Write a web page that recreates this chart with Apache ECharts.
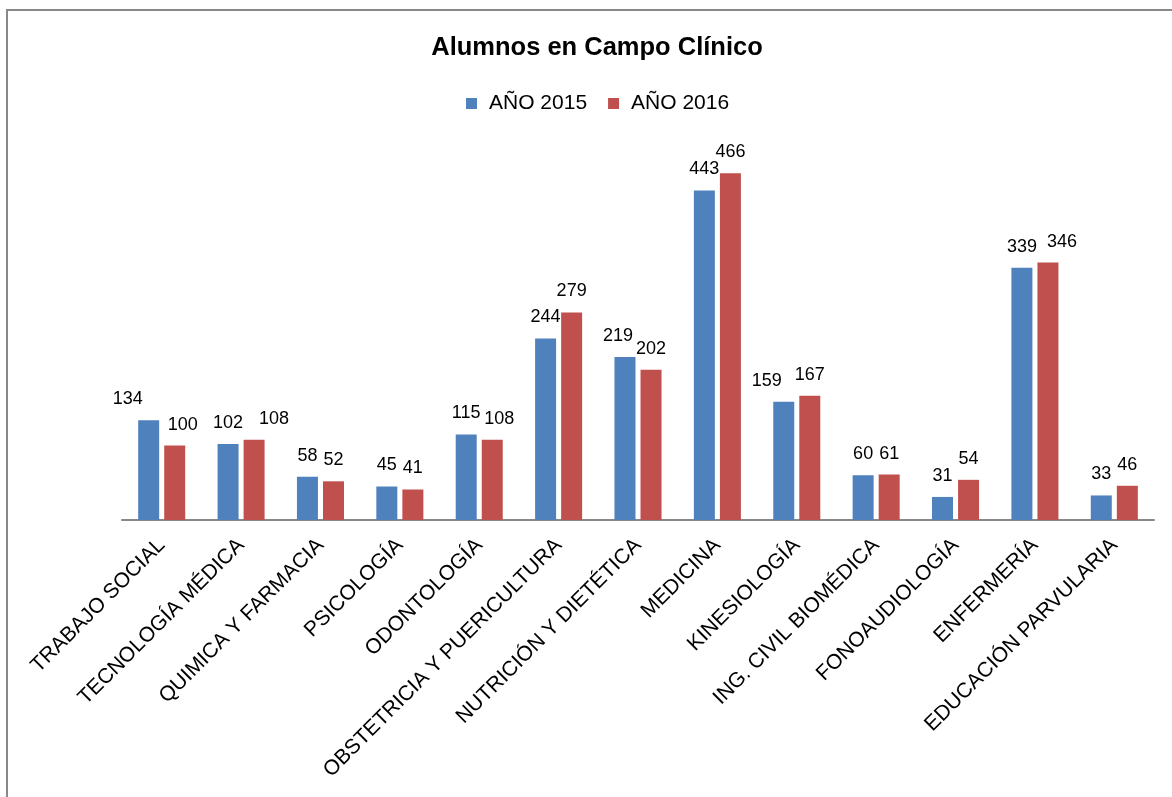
<!DOCTYPE html>
<html>
<head>
<meta charset="utf-8">
<script src="https://cdn.jsdelivr.net/npm/echarts@6/dist/echarts.min.js"></script>
<style>
  html, body { margin: 0; padding: 0; background: #fff; }
  #main { width: 1172px; height: 797px; }
</style>
</head>
<body>
<div id="main"></div>
<script>
var categories = ['TRABAJO SOCIAL', 'TECNOLOGÍA MÉDICA', 'QUIMICA Y FARMACIA', 'PSICOLOGÍA', 'ODONTOLOGÍA',
    'OBSTETRICIA Y PUERICULTURA', 'NUTRICIÓN Y DIETÉTICA', 'MEDICINA', 'KINESIOLOGÍA',
    'ING. CIVIL BIOMÉDICA', 'FONOAUDIOLOGÍA', 'ENFERMERÍA', 'EDUCACIÓN PARVULARIA'];
var values2015 = [134, 102, 58, 45, 115, 244, 219, 443, 159, 60, 31, 339, 33];
var values2016 = [100, 108, 52, 41, 108, 279, 202, 466, 167, 61, 54, 346, 46];

// horizontal nudges of the value labels, as in the original (avoid overlaps)
var shift2015 = [-21, 0, 0, 0, 0, 0, -7, 0, -17, 0, 0, 0, 0];
var shift2016 = [8, 20, 0, 0, 7, 0, 0, 0, 0, 0, 0, 14, 0];

function withShift(vals, shifts) {
    return vals.map(function (v, i) {
        return { value: v, label: { offset: [shifts[i], 0] } };
    });
}

var myChart = echarts.init(document.getElementById('main'));

var labelStyle = {
    show: true,
    position: 'top',
    distance: 12,
    color: '#000',
    fontSize: 18,
    fontFamily: 'Liberation Sans'
};

var option = {
    animation: false,
    textStyle: { fontFamily: 'Liberation Sans' },
    title: {
        text: 'Alumnos en Campo Clínico',
        left: 592,
        top: 30,
        textAlign: 'center',
        textStyle: { fontSize: 25.5, fontWeight: 'bold', color: '#000', fontFamily: 'Liberation Sans' }
    },
    legend: {
        top: 88,
        left: 461,
        itemWidth: 11,
        itemHeight: 11,
        itemGap: 21,
        icon: 'rect',
        textStyle: { fontSize: 21, color: '#000', fontFamily: 'Liberation Sans', padding: [0, 0, 0, 7] },
        data: ['AÑO 2015', 'AÑO 2016']
    },
    graphic: [{
        type: 'rect',
        shape: { x: 7, y: 10, width: 1300, height: 900 },
        style: { fill: 'none', stroke: '#888', lineWidth: 2 },
        silent: true
    }],
    grid: { left: 122, right: 18, top: 148, bottom: 277 },
    xAxis: {
        type: 'category',
        data: categories,
        axisLine: { lineStyle: { color: '#888', width: 2 } },
        axisTick: { show: false },
        axisLabel: {
            rotate: 45,
            interval: 0,
            margin: 22,
            color: '#000',
            fontSize: 21,
            fontFamily: 'Liberation Sans'
        }
    },
    yAxis: {
        type: 'value',
        min: 0,
        max: 500,
        show: false,
        splitLine: { show: false }
    },
    series: [
        {
            name: 'AÑO 2015',
            type: 'bar',
            barWidth: 21,
            barGap: '24%',
            itemStyle: { color: '#4F81BD' },
            label: labelStyle,
            data: withShift(values2015, shift2015)
        },
        {
            name: 'AÑO 2016',
            type: 'bar',
            barWidth: 21,
            barGap: '24%',
            itemStyle: { color: '#C0504D' },
            label: labelStyle,
            data: withShift(values2016, shift2016)
        }
    ]
};

myChart.setOption(option);
</script>
</body>
</html>
